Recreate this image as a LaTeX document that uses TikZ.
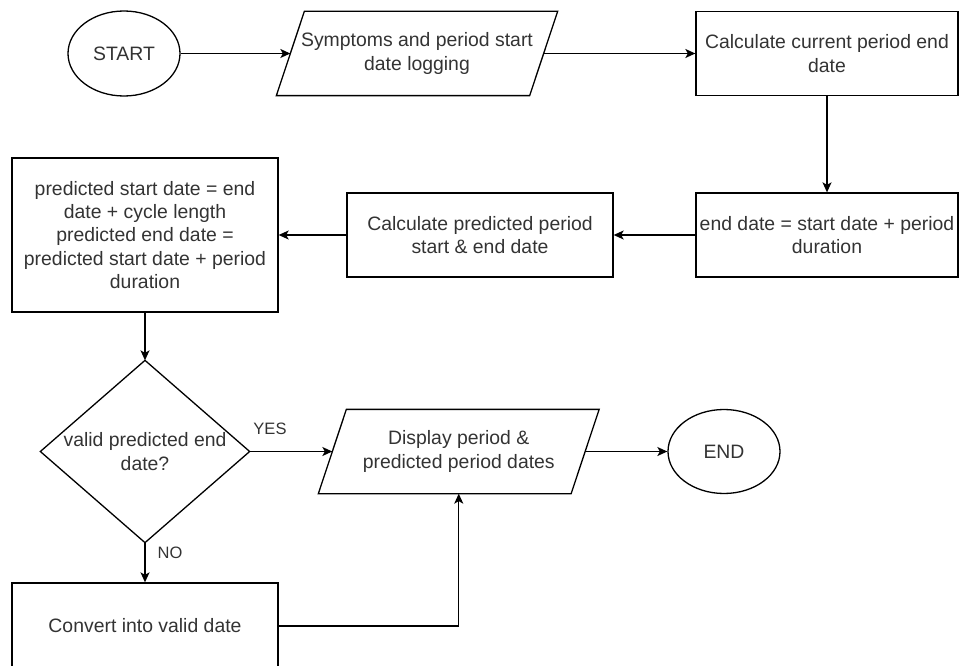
\documentclass[tikz,border=0pt]{standalone}
\usepackage{fontspec}
\setmainfont{Liberation Sans}
\usetikzlibrary{arrows.meta,shapes.geometric}
\begin{document}
\begin{tikzpicture}[x=1pt,y=-1pt,line width=1.3pt,
  font=\fontsize{19.4}{23.3}\selectfont,
  every node/.style={text=black!80, align=center, inner sep=0pt},
  box/.style={draw=black, rectangle},
  hidden/.style={rectangle},
  oval/.style={draw=black, ellipse},
  lbl/.style={font=\fontsize{16.5}{19}\selectfont},
  arr/.style={-{Stealth[length=10pt,width=9pt,inset=2.5pt]}}]
\useasboundingbox (0,0) rectangle (959,666);

\node[oval, minimum width=112pt, minimum height=85pt] (start) at (124,53.5) {START};
\node[hidden, minimum width=252pt, minimum height=83pt] (p1) at (417,53.5) {Symptoms and period start\\date logging};
\draw ([xshift=14pt]p1.north west) -- ([xshift=14pt]p1.north east) -- ([xshift=-14pt]p1.south east) -- ([xshift=-14pt]p1.south west) -- cycle;
\node[box, minimum width=262pt, minimum height=84pt] (calc) at (827,53.5) {Calculate current period end\\date};
\node[box, minimum width=262pt, minimum height=84pt] (enddate) at (827,235) {end date = start date + period\\duration};
\node[box, minimum width=266pt, minimum height=84pt] (calcpred) at (480,235) {Calculate predicted period\\start \& end date};
\node[box, minimum width=266pt, minimum height=154pt] (formula) at (145,235) {predicted start date = end\\date + cycle length\\predicted end date =\\predicted start date + period\\duration};
\node[hidden, minimum width=208pt, minimum height=181pt] (dia) at (145,451.5) {valid predicted end\\date?};
\draw (dia.north) -- (dia.east) -- (dia.south) -- (dia.west) -- cycle;
\node[hidden, minimum width=251.5pt, minimum height=83pt] (disp) at (458.75,451.5) {Display period \&\\predicted period dates};
\draw ([xshift=14pt]disp.north west) -- ([xshift=14pt]disp.north east) -- ([xshift=-14pt]disp.south east) -- ([xshift=-14pt]disp.south west) -- cycle;
\node[oval, minimum width=112pt, minimum height=84pt] (endn) at (724,451.5) {END};
\node[box, minimum width=266pt, minimum height=86pt] (conv) at (145,626) {Convert into valid date};

\node[lbl] (yes) at (270,429) {YES};
\node[lbl] (no) at (170,553) {NO};

\draw[arr] (start.east) -- (p1.west);
\draw[arr] (p1.east) -- (calc.west);
\draw[arr] (calc.south) -- (enddate.north);
\draw[arr] (enddate.west) -- (calcpred.east);
\draw[arr] (calcpred.west) -- (formula.east);
\draw[arr] (formula.south) -- (dia.north);
\draw[arr] (dia.east) -- (disp.west);
\draw[arr] (dia.south) -- (conv.north);
\draw[arr] (conv.east) -| (disp.south);
\draw[arr] (disp.east) -- (endn.west);
\end{tikzpicture}
\end{document}
